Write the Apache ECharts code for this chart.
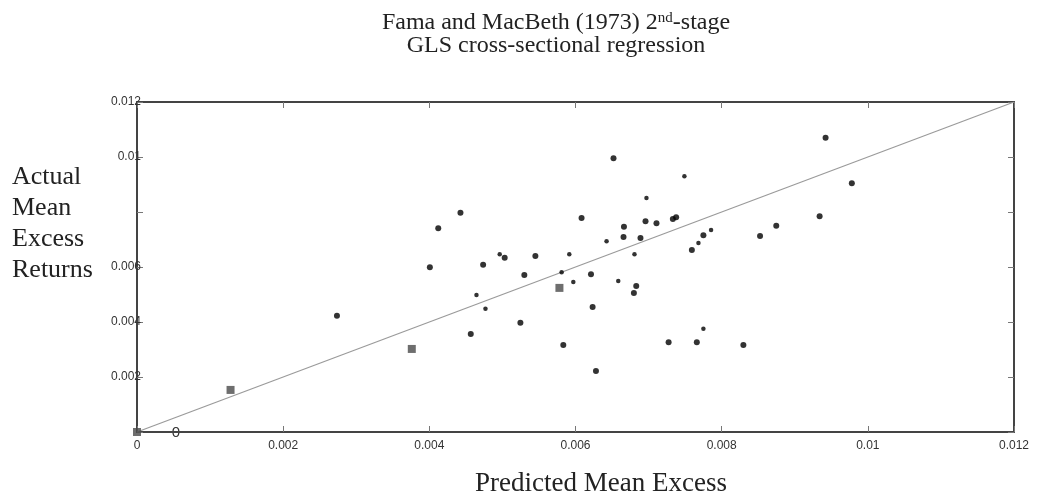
<!DOCTYPE html>
<html>
<head>
	<meta http-equiv="Content-Type" content="text/html;charset=utf-8">
	<title>Fama and MacBeth 2nd-stage</title>
	<script src="https://cdn.jsdelivr.net/npm/echarts@6/dist/echarts.min.js"></script>
	<style>
	  html, body{ margin:0; padding:0; background:#fff; }
	  #chart{ width:1046px; height:499px; }
	</style>
</head>
<body>
<div id="chart"></div>
<script>
	// predicted (x) vs actual (y) mean excess returns
	var dotsBig = [
		[0.002736, 0.004229], [0.004007, 0.005989], [0.004122, 0.007407], [0.004426, 0.007975],
		[0.004567, 0.003564], [0.004736, 0.006084], [0.005031, 0.006338], [0.005246, 0.003975],
		[0.005300, 0.005709], [0.005451, 0.006400], [0.005833, 0.003164], [0.006083, 0.007782],
		[0.006212, 0.005735], [0.006234, 0.004545], [0.006280, 0.002218], [0.006520, 0.009953],
		[0.006657, 0.007091], [0.006663, 0.007465], [0.006799, 0.005055], [0.006831, 0.005309],
		[0.006889, 0.007055], [0.006958, 0.007662], [0.007108, 0.007589], [0.007274, 0.003262],
		[0.007332, 0.007745], [0.007377, 0.007807], [0.007592, 0.006618], [0.007660, 0.003262],
		[0.007750, 0.007153], [0.008297, 0.003164], [0.008525, 0.007127], [0.008747, 0.007502],
		[0.009340, 0.007844], [0.009422, 0.010702], [0.009781, 0.009044]
	];
	var dotsSmall = [
		[0.004645, 0.004982], [0.004768, 0.004484], [0.004963, 0.006462], [0.005810, 0.005807],
		[0.005915, 0.006462], [0.005970, 0.005455], [0.006425, 0.006935], [0.006585, 0.005491],
		[0.006807, 0.006462], [0.006971, 0.008509], [0.007490, 0.009298], [0.007682, 0.006873],
		[0.007750, 0.003756], [0.007855, 0.007345]
	];
	var squares = [[0, 0], [0.00128, 0.00153], [0.00376, 0.00302], [0.00578, 0.00524]];
	var fitLine = [[0, 0], [0.012, 0.012]];
	var xTicks = [0, 0.002, 0.004, 0.006, 0.008, 0.01, 0.012];
	var yTickLabels = ['', '0.002', '0.004', '0.006', '', '0.01', '0.012'];

	var serif = '"Liberation Serif", "DejaVu Serif", serif';
	var sans = '"Liberation Sans", Arial, sans-serif';
	var axisColor = '#444';

	var gridBox = { left: 137, top: 102, width: 877, height: 330 };

	var option = {
		backgroundColor: '#fff',
		animation: false,
		title: [{
			text: 'Fama and MacBeth (1973) 2{sup|nd}-stage\nGLS cross-sectional regression',
			left: 551,
			top: 6,
			textAlign: 'center',
			textStyle: {
				fontFamily: serif,
				fontSize: 24,
				fontWeight: 'normal',
				color: '#222',
				lineHeight: 23,
				rich: {
					sup: { fontFamily: serif, fontSize: 15, color: '#222', verticalAlign: 'top', lineHeight: 23, padding: [0, 0, 12, 0] }
				}
			}
		}],
		graphic: [
			{
				type: 'text', left: 12, top: 162,
				style: { text: 'Actual\nMean\nExcess\nReturns', font: '26px ' + serif, fill: '#222', lineHeight: 31 }
			},
			{
				type: 'text', x: 601, y: 484,
				style: { text: 'Predicted Mean Excess', font: '27px ' + serif, fill: '#222', align: 'center', verticalAlign: 'middle' }
			},
			{
				type: 'text', x: 176, y: 433,
				style: { text: '0', font: '15px ' + sans, fill: '#333', align: 'center', verticalAlign: 'middle' }
			}
		],
		grid: gridBox,
		xAxis: [{
			type: 'value', min: 0, max: 0.012, interval: 0.002, position: 'bottom',
			axisLine: { show: true, onZero: false, lineStyle: { color: axisColor, width: 2 } },
			axisTick: { show: true, inside: true, length: 6, lineStyle: { color: '#777' } },
			axisLabel: {
				color: '#333', fontFamily: sans, fontSize: 12, margin: 8,
				formatter: function (v) {
					for (var i = 0; i < xTicks.length; i++) {
						if (Math.abs(xTicks[i] - v) < 1e-9) return String(xTicks[i]);
					}
					return '';
				}
			},
			splitLine: { show: false }
		}, {
			type: 'value', min: 0, max: 0.012, interval: 0.002, position: 'top',
			axisLine: { show: true, onZero: false, lineStyle: { color: axisColor, width: 2 } },
			axisTick: { show: true, inside: true, length: 6, lineStyle: { color: '#777' } },
			axisLabel: { show: false },
			splitLine: { show: false }
		}],
		yAxis: [{
			type: 'value', min: 0, max: 0.012, interval: 0.002, position: 'left',
			axisLine: { show: true, onZero: false, lineStyle: { color: axisColor, width: 2 } },
			axisTick: { show: true, inside: true, length: 6, lineStyle: { color: '#777' } },
			axisLabel: {
				color: '#333', fontFamily: sans, fontSize: 12, margin: -4,
				formatter: function (v) {
					return yTickLabels[Math.round(v / 0.002)] || '';
				}
			},
			splitLine: { show: false }
		}, {
			type: 'value', min: 0, max: 0.012, interval: 0.002, position: 'right',
			axisLine: { show: true, onZero: false, lineStyle: { color: axisColor, width: 2 } },
			axisTick: { show: true, inside: true, length: 6, lineStyle: { color: '#777' } },
			axisLabel: { show: false },
			splitLine: { show: false }
		}],
		series: [
			{
				type: 'line', data: fitLine, symbol: 'none', silent: true,
				lineStyle: { color: '#9a9a9a', width: 1.2 }, z: 1
			},
			{
				type: 'scatter', data: dotsBig, symbol: 'circle', symbolSize: 6,
				itemStyle: { color: '#000' }, z: 3
			},
			{
				type: 'scatter', data: dotsSmall, symbol: 'circle', symbolSize: 4.5,
				itemStyle: { color: '#000' }, z: 3
			},
			{
				type: 'scatter', data: squares, symbol: 'rect', symbolSize: 8,
				itemStyle: { color: '#4a4a4a' }, z: 4
			}
		]
	};

	var myChart = echarts.init(document.getElementById('chart'));
	myChart.setOption(option);
</script>
</body>
</html>
